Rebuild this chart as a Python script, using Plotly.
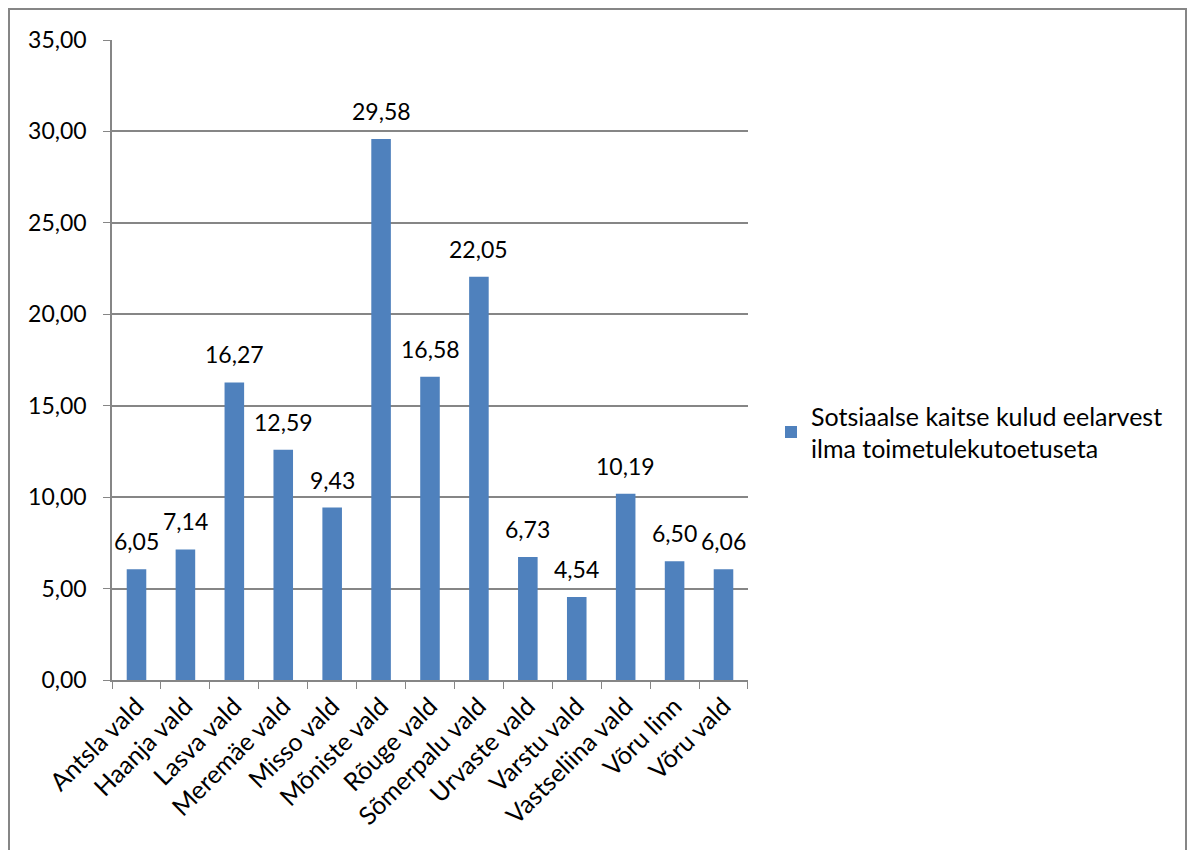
import plotly.graph_objects as go

# Municipalities and social protection spending values
categories = [
    "Antsla vald", "Haanja vald", "Lasva vald", "Meremäe vald", "Misso vald",
    "Mõniste vald", "Rõuge vald", "Sõmerpalu vald", "Urvaste vald", "Varstu vald",
    "Vastseliina vald", "Võru linn", "Võru vald",
]
values = [6.05, 7.14, 16.27, 12.59, 9.43, 29.58, 16.58, 22.05, 6.73, 4.54, 10.19, 6.50, 6.06]
series_name = "Sotsiaalse kaitse kulud eelarvest<br>ilma toimetulekutoetuseta"

FONT = "Lato"
FS = 23
FS_CAT = 25
GRID = "#868686"
BAR = "#4F81BD"

labels = [f"{v:.2f}".replace(".", ",") for v in values]

fig = go.Figure()
fig.add_trace(go.Bar(
    x=categories,
    y=values,
    name=series_name,
    marker=dict(color=BAR, line=dict(width=0)),
    showlegend=True,
))

# Value labels above each bar
for c, v, t in zip(categories, values, labels):
    fig.add_annotation(
        x=c, y=v, text=t, showarrow=False,
        xanchor="center", yanchor="bottom", yshift=12,
        font=dict(size=FS, color="black", family=FONT),
    )

W, H = 1191, 850
L, R, T, B = 112, 748, 40, 680
pw, ph = R - L, B - T

fig.update_layout(
    width=W, height=H,
    margin=dict(l=L, r=W - R, t=T, b=H - B, autoexpand=False),
    paper_bgcolor="white",
    plot_bgcolor="white",
    separators=", ",
    bargap=0.6,
    font=dict(family=FONT, size=FS, color="black"),
    showlegend=True,
    legend=dict(
        x=(771 - L) / pw, y=1 - (432 - T) / ph,
        xanchor="left", yanchor="middle",
        font=dict(size=FS_CAT, family=FONT),
        itemwidth=30,
        bgcolor="rgba(0,0,0,0)",
    ),
    xaxis=dict(
        type="category",
        tickangle=-45,
        tickson="boundaries",
        ticks="outside",
        ticklen=7,
        tickcolor=GRID,
        showline=True,
        linecolor=GRID,
        linewidth=1.5,
        showgrid=False,
        tickfont=dict(size=FS_CAT, family=FONT),
    ),
    yaxis=dict(
        range=[0, 35],
        dtick=5,
        tickformat=".2f",
        ticks="outside",
        ticklen=7,
        tickcolor=GRID,
        showline=True,
        linecolor=GRID,
        linewidth=1.5,
        showgrid=True,
        gridcolor=GRID,
        gridwidth=1.5,
        zeroline=False,
        tickfont=dict(size=FS, family=FONT),
        ticklabelstandoff=12,
    ),
)

# Outer chart border
fig.add_shape(
    type="rect", xref="paper", yref="paper",
    x0=(9 - L) / pw, x1=(1186 - L) / pw,
    y0=-0.5, y1=1 + (T - 9) / ph,
    line=dict(color=GRID, width=2),
    fillcolor="rgba(0,0,0,0)",
    layer="below",
)

fig.write_html("out.html")
